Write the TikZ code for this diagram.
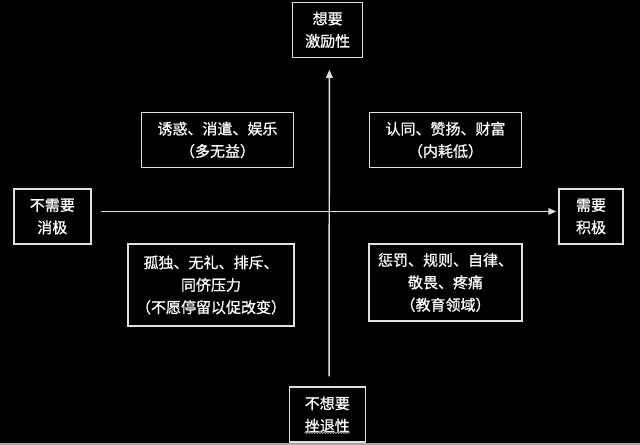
\documentclass[tikz,border=0pt]{standalone}
\usepackage{fontspec}
\newfontfamily\cjk[FakeBold=0.8]{Noto Sans CJK SC}
\usetikzlibrary{arrows.meta,decorations.pathmorphing}
\definecolor{linegray}{gray}{0.88}
\begin{document}
\begin{tikzpicture}[x=0.75pt,y=-0.75pt,
	box/.style={draw=linegray,line width=1.1pt,text=white,align=center,inner sep=0pt,
		font=\cjk\fontsize{11.25}{16.8}\selectfont},
	axis/.style={draw=linegray,line width=1.1pt,-{Triangle[length=6pt,width=5pt]}}]
	% Background
	\fill[black] (0,0) rectangle (640,445);
	\fill[gray!70] (0,443) rectangle (640,445);
	\useasboundingbox (0,0) rectangle (640,445);
	
	% Axis ends
	\node[box,minimum width=52.5pt,minimum height=41.25pt] (want) at (327.7,29.8) {想要\\激励性};
	\node[box,minimum width=57pt,minimum height=41.25pt] (notwant) at (327.3,414.5) {不想要\\挫退性};
	\node[box,minimum width=57.75pt,minimum height=41.25pt] (noneed) at (52.3,216.5) {不需要\\消极};
	\node[box,minimum width=48pt,minimum height=41.25pt] (need) at (591,216.5) {需要\\积极};
	
	% Quadrants
	\node[box,minimum width=114pt,minimum height=41.25pt] (lure) at (217.5,140) {诱惑、消遣、娱乐\\（多无益）};
	\node[box,minimum width=114pt,minimum height=41.25pt] (praise) at (445.5,140) {认同、赞扬、财富\\（内耗低）};
	\node[box,minimum width=124.5pt,minimum height=61.5pt] (lonely) at (211,285) {孤独、无礼、排斥、\\同侪压力\\（不愿停留以促改变）};
	\node[box,minimum width=114.75pt,minimum height=57.75pt] (punish) at (445.5,282.5) {惩罚、规则、自律、\\敬畏、疼痛\\（教育领域）};
	
	% Axes
	\draw[axis,shorten <=7.5pt,shorten >=8.8pt] ([xshift=1.3pt]notwant.north) -- ([xshift=1.3pt]want.south);
	\draw[axis,shorten <=7pt,shorten >=1.5pt] ([yshift=3.75pt]noneed.east) -- ([yshift=3.75pt]need.west);
	
	% Spell-check squiggle
	\draw[gray!80,line width=0.6pt,decorate,decoration={snake,amplitude=0.6pt,segment length=2pt}]
		([xshift=-17pt,yshift=7.5pt]notwant.south) -- ([xshift=17pt,yshift=7.5pt]notwant.south);
\end{tikzpicture}
\end{document}
